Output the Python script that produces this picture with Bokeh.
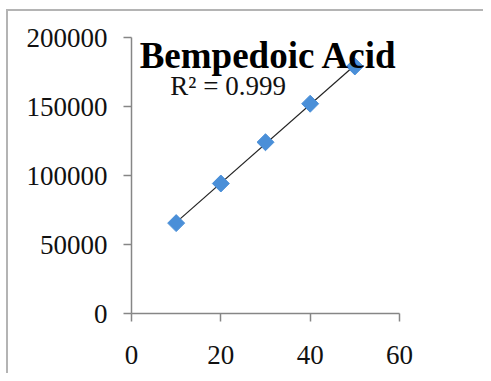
import numpy as np
from bokeh.plotting import figure
from bokeh.models import Range1d, FixedTicker, BasicTickFormatter, Label
from bokeh.embed import file_html
from bokeh.resources import INLINE

# Data
conc = [10, 20, 30, 40, 50]
area = [65500, 94200, 124100, 152000, 179000]
x_ticks = [0, 20, 40, 60]
y_ticks = [0, 50000, 100000, 150000, 200000]
title_text = "Bempedoic Acid"
r2_text = "R² = 0.999"

p = figure(width=483, height=373, output_backend="svg", toolbar_location=None,
           x_range=Range1d(0, 60), y_range=Range1d(0, 200000),
           min_border_left=131, min_border_right=84, min_border_top=37, min_border_bottom=60)
p.outline_line_color = None
p.xgrid.visible = False
p.ygrid.visible = False
p.border_fill_color = None
p.background_fill_color = None
# outer chart-area frame (left and top edges visible)
frame_col = "#b4b4b4"
p.styles = {
    "background": (f"linear-gradient({frame_col},{frame_col}) 6px 9px / 2px 100% no-repeat, "
                   f"linear-gradient({frame_col},{frame_col}) 6px 9px / 100% 2px no-repeat, white"),
}

font = "Liberation Serif"
for ax in (p.xaxis, p.yaxis):
    ax.axis_line_color = "#868686"
    ax.major_tick_line_color = "#868686"
    ax.axis_line_width = 1.5
    ax.major_tick_line_width = 1.5
    ax.major_tick_out = 8
    ax.major_tick_in = 0
    ax.minor_tick_line_color = None
    ax.major_label_text_font = font
    ax.major_label_text_font_size = "27px"
    ax.major_label_text_color = "#111111"

p.xaxis.ticker = FixedTicker(ticks=x_ticks)
p.yaxis.ticker = FixedTicker(ticks=y_ticks)
p.yaxis.formatter = BasicTickFormatter(use_scientific=False)
p.xaxis.major_label_standoff = 24
p.yaxis.major_label_standoff = 16

# Trendline (linear fit of data)
m, b = np.polyfit(conc, area, 1)
xs = [min(conc), max(conc)]
p.line(xs, [m * v + b for v in xs], line_color="#222222", line_width=1.2)

p.scatter(conc, area, marker="square", angle=np.pi / 4, size=12,
          fill_color="#4A8FD8", line_color="#4A8FD8")

p.add_layout(Label(x=30.7, y=187000, text=title_text, text_align="center",
                   text_baseline="alphabetic", text_font=font, text_font_style="bold",
                   text_font_size="37px", text_color="#000000"))
p.add_layout(Label(x=8.7, y=164500, text=r2_text, text_align="left",
                   text_baseline="alphabetic", text_font=font,
                   text_font_size="27px", text_color="#111111"))

open("out.html", "w").write(file_html(p, INLINE))
